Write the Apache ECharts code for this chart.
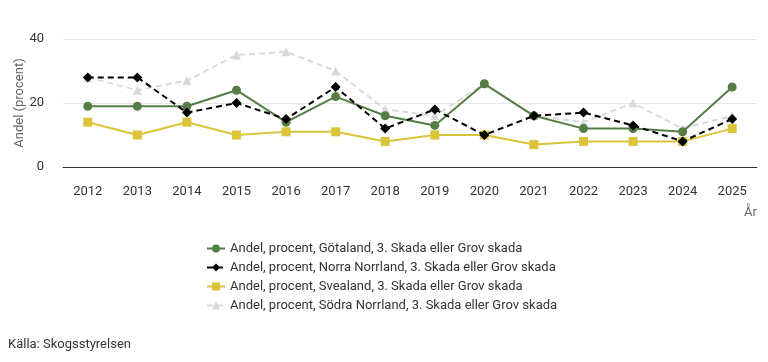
<!DOCTYPE html>
<html>
<head>
<meta charset="utf-8">
<script src="https://cdn.jsdelivr.net/npm/echarts@6/dist/echarts.min.js"></script>
<style>
html,body{margin:0;padding:0;background:#fff;}
#c{width:768px;height:362px;}
</style>
</head>
<body>
<div id="c"></div>
<script>
const years = ['2012','2013','2014','2015','2016','2017','2018','2019','2020','2021','2022','2023','2024','2025'];
const gotaland = [19,19,19,24,14,22,16,13,26,16,12,12,11,25];
const norraNorrland = [28,28,17,20,15,25,12,18,10,16,17,13,8,15];
const svealand = [14,10,14,10,11,11,8,10,10,7,8,8,8,12];
const sodraNorrland = [28,24,27,35,36,30,18,16,26,16,14,20,12,16];
const names = [
  'Andel, procent, Götaland, 3. Skada eller Grov skada',
  'Andel, procent, Norra Norrland, 3. Skada eller Grov skada',
  'Andel, procent, Svealand, 3. Skada eller Grov skada',
  'Andel, procent, Södra Norrland, 3. Skada eller Grov skada'
];
const chart = echarts.init(document.getElementById('c'), null, {renderer:'canvas'});
const font = 'Roboto, sans-serif';
chart.setOption({
  animation:false,
  textStyle:{fontFamily:font},
  grid:{left:63,right:11,top:39,bottom:195,containLabel:false,outerBoundsMode:'none'},
  xAxis:{
    type:'category', data:years, boundaryGap:true,
    name:'År', nameLocation:'end', nameGap:0,
    nameTextStyle:{color:'#666',fontSize:13,fontFamily:font,align:'right',verticalAlign:'top',padding:[39,0,0,0]},
    axisLine:{show:true,lineStyle:{color:'#333',width:1}},
    axisTick:{show:false},
    axisLabel:{color:'#333',fontSize:13,fontFamily:font,margin:18}
  },
  yAxis:{
    type:'value', min:0, max:40, interval:20,
    name:'Andel (procent)', nameLocation:'middle', nameGap:37, nameRotate:90, nameMoveOverlap:false,
    nameTextStyle:{color:'#666',fontSize:13,fontFamily:font},
    axisLine:{show:false}, axisTick:{show:false},
    axisLabel:{color:'#333',fontSize:13,fontFamily:font,margin:19},
    splitLine:{lineStyle:{color:'#e6e6e6',width:1}}
  },
  legend:{
    orient:'vertical', left:201, top:237, itemGap:6, itemWidth:18, itemHeight:10,
    textStyle:{color:'#333',fontSize:13,fontFamily:font},
    data:names
  },
  graphic:[{type:'text',left:8,top:338,style:{text:'Källa: Skogsstyrelsen',fill:'#333',font:'13px Roboto, sans-serif'}}],
  series:[
    {name:names[0],type:'line',data:gotaland,z:4,symbol:'circle',symbolSize:9,
     itemStyle:{color:'#567d46'},lineStyle:{color:'#567d46',width:2}},
    {name:names[1],type:'line',data:norraNorrland,z:5,symbol:'diamond',symbolSize:10,
     itemStyle:{color:'#000'},lineStyle:{color:'#000',width:2,type:[6,4]}},
    {name:names[2],type:'line',data:svealand,z:3,symbol:'rect',symbolSize:9,
     itemStyle:{color:'#dbc439'},lineStyle:{color:'#dbc439',width:2}},
    {name:names[3],type:'line',data:sodraNorrland,z:2,symbol:'triangle',symbolSize:9,
     itemStyle:{color:'#d9d9d9'},lineStyle:{color:'#d9d9d9',width:2,type:[6,4]}}
  ]
});
</script>
</body>
</html>
